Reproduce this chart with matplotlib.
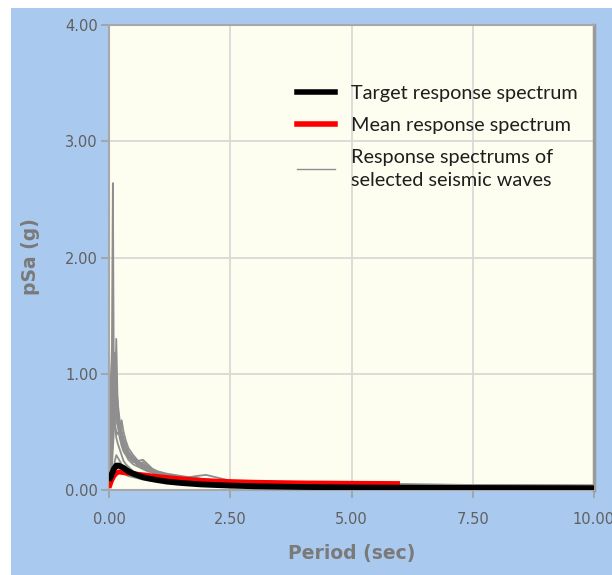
import matplotlib
matplotlib.use("Agg")
import matplotlib.pyplot as plt
from matplotlib.patches import Rectangle
from matplotlib.lines import Line2D

# ---------------- data ----------------
periods = [0, 0.03, 0.06, 0.08, 0.1, 0.12, 0.15, 0.18, 0.22, 0.26, 0.3, 0.35, 0.4, 0.5,
           0.6, 0.7, 0.8, 0.9, 1.0, 1.2, 1.5, 1.8, 2.0, 2.5, 3.0, 3.5, 4.0, 4.5, 5.0,
           6.0, 7.0, 8.0, 9.0, 10.0]

wave1 = [0.10, 0.35, 1.20, 2.64, 0.90, 0.60, 0.45, 0.40, 0.35, 0.30, 0.25, 0.22, 0.20, 0.16,
         0.14, 0.12, 0.11, 0.10, 0.09, 0.08, 0.07, 0.06, 0.055, 0.05, 0.045, 0.04, 0.04, 0.038,
         0.036, 0.034, 0.032, 0.03, 0.03, 0.03]
wave2 = [0.05, 0.20, 0.40, 0.50, 0.60, 0.70, 1.30, 0.70, 0.55, 0.45, 0.40, 0.35, 0.30, 0.25,
         0.22, 0.24, 0.20, 0.17, 0.15, 0.12, 0.10, 0.09, 0.08, 0.07, 0.06, 0.055, 0.05, 0.05,
         0.045, 0.04, 0.04, 0.035, 0.035, 0.035]
wave3 = [0.08, 0.30, 0.60, 0.80, 1.00, 1.18, 0.80, 0.60, 0.50, 0.60, 0.50, 0.42, 0.36, 0.30,
         0.25, 0.26, 0.22, 0.18, 0.16, 0.13, 0.11, 0.10, 0.09, 0.08, 0.07, 0.06, 0.06, 0.07,
         0.06, 0.05, 0.045, 0.04, 0.04, 0.04]
wave4 = [0.06, 0.50, 1.22, 0.80, 0.70, 0.65, 0.60, 0.55, 0.45, 0.38, 0.33, 0.30, 0.26, 0.22,
         0.20, 0.18, 0.16, 0.15, 0.14, 0.12, 0.10, 0.12, 0.13, 0.08, 0.065, 0.06, 0.055, 0.05,
         0.05, 0.045, 0.04, 0.04, 0.035, 0.035]
wave5 = [0.04, 0.10, 0.30, 0.45, 0.60, 0.55, 0.50, 0.48, 0.52, 0.45, 0.38, 0.32, 0.28, 0.24,
         0.25, 0.20, 0.17, 0.16, 0.14, 0.12, 0.10, 0.085, 0.075, 0.065, 0.055, 0.05, 0.048, 0.045,
         0.042, 0.04, 0.038, 0.036, 0.034, 0.032]
wave6 = [0.02, 0.05, 0.10, 0.15, 0.20, 0.25, 0.30, 0.28, 0.25, 0.22, 0.20, 0.18, 0.17, 0.15,
         0.13, 0.12, 0.11, 0.10, 0.09, 0.08, 0.07, 0.06, 0.055, 0.045, 0.04, 0.035, 0.03, 0.03,
         0.028, 0.026, 0.025, 0.024, 0.023, 0.022]
wave7 = [0.03, 0.08, 0.20, 0.35, 0.50, 0.70, 0.90, 0.75, 0.60, 0.50, 0.42, 0.36, 0.32, 0.27,
         0.24, 0.20, 0.18, 0.17, 0.15, 0.13, 0.11, 0.10, 0.09, 0.075, 0.065, 0.06, 0.055, 0.05,
         0.048, 0.045, 0.042, 0.04, 0.038, 0.036]
wave8 = [0.01, 0.03, 0.06, 0.08, 0.10, 0.12, 0.14, 0.15, 0.16, 0.15, 0.14, 0.13, 0.12, 0.11,
         0.10, 0.09, 0.085, 0.08, 0.075, 0.065, 0.055, 0.05, 0.045, 0.04, 0.035, 0.032, 0.03, 0.028,
         0.026, 0.025, 0.024, 0.022, 0.021, 0.02]
wave9 = [0.12, 0.90, 1.10, 0.90, 0.80, 0.75, 0.70, 0.62, 0.58, 0.50, 0.44, 0.38, 0.33, 0.28,
         0.25, 0.22, 0.19, 0.17, 0.15, 0.13, 0.11, 0.095, 0.085, 0.07, 0.06, 0.055, 0.05, 0.047,
         0.045, 0.042, 0.04, 0.038, 0.036, 0.035]
wave10 = [0.07, 0.40, 0.90, 1.05, 0.85, 0.90, 0.75, 0.65, 0.55, 0.48, 0.43, 0.36, 0.30, 0.26,
          0.23, 0.20, 0.18, 0.16, 0.14, 0.12, 0.10, 0.09, 0.08, 0.07, 0.06, 0.055, 0.052, 0.06,
          0.055, 0.048, 0.045, 0.042, 0.04, 0.038]
wave11 = [0.09, 0.60, 0.70, 0.65, 0.72, 0.80, 0.68, 0.58, 0.50, 0.42, 0.36, 0.32, 0.29, 0.26,
          0.23, 0.21, 0.20, 0.18, 0.16, 0.14, 0.12, 0.10, 0.09, 0.075, 0.065, 0.06, 0.055, 0.05,
          0.05, 0.045, 0.042, 0.04, 0.038, 0.036]
wave12 = [0.05, 0.25, 0.50, 0.62, 0.75, 0.95, 1.00, 0.68, 0.57, 0.48, 0.40, 0.34, 0.30, 0.25,
          0.21, 0.19, 0.17, 0.15, 0.13, 0.11, 0.095, 0.085, 0.08, 0.065, 0.055, 0.05, 0.046, 0.044,
          0.042, 0.04, 0.038, 0.036, 0.034, 0.033]
waves = [wave1, wave2, wave3, wave4, wave5, wave6, wave7, wave8, wave9, wave10, wave11, wave12]

target_periods = [0, 0.05, 0.1, 0.15, 0.2, 0.25, 0.3, 0.4, 0.5, 0.6, 0.7, 0.8, 1.0, 1.2, 1.5,
                  1.9, 2.5, 3.0, 4.0, 5.0, 6.0, 7.0, 8.0, 10.0]
target_values = [0.08, 0.13, 0.18, 0.21, 0.21, 0.20, 0.19, 0.16, 0.14, 0.125, 0.11, 0.10, 0.085,
                 0.072, 0.06, 0.048, 0.038, 0.032, 0.026, 0.022, 0.02, 0.018, 0.017, 0.015]

mean_periods = [0, 0.05, 0.1, 0.15, 0.2, 0.3, 0.4, 0.5, 0.7, 1.0, 1.5, 2.0, 2.5, 3.0, 4.0, 5.0, 6.0]
mean_values = [0.02, 0.08, 0.12, 0.145, 0.155, 0.15, 0.145, 0.14, 0.13, 0.115, 0.095, 0.08, 0.072,
               0.066, 0.06, 0.057, 0.055]

x_ticks = [0, 2.5, 5, 7.5, 10]
y_ticks = [0, 1, 2, 3, 4]
legend_labels = ["Target response spectrum", "Mean response spectrum",
                 "Response spectrums of\nselected seismic waves"]

# ---------------- figure ----------------
W, H = 612, 575
fig = plt.figure(figsize=(W / 100, H / 100), dpi=100, facecolor="white")
fig.patches.append(Rectangle((11 / W, 0), 1 - 11 / W, (H - 8) / H, transform=fig.transFigure,
                             facecolor="#a9c9ee", edgecolor="none", zorder=-10))

left, right, top, bottom = 109, 594, 25, 490
ax = fig.add_axes([left / W, (H - bottom) / H, (right - left) / W, (bottom - top) / H])
ax.set_facecolor("#fdfdf0")

for w in waves:
    ax.plot(periods, w, color="#8e8e8e", lw=1.3, zorder=2)
ax.plot(mean_periods, mean_values, color="#ff0000", lw=3.6, zorder=3, solid_capstyle="butt")
ax.plot(target_periods, target_values, color="#000000", lw=4.2, zorder=4, solid_capstyle="butt")

ax.set_xlim(0, 10)
ax.set_ylim(0, 4)
ax.set_xticks(x_ticks)
ax.set_yticks(y_ticks)
ax.set_xticklabels([f"{v:.2f}" for v in x_ticks])
ax.set_yticklabels([f"{v:.2f}" for v in y_ticks])
ax.grid(True, color="#d9d9d6", lw=1.3, zorder=1)
ax.set_axisbelow(True)

for s in ["left", "bottom", "top"]:
    ax.spines[s].set_color("#a8a8a8")
    ax.spines[s].set_linewidth(1.5)
ax.spines["right"].set_color("#9a9a9a")
ax.spines["right"].set_linewidth(2.5)

ax.tick_params(axis="both", colors="#a0a0a0", labelcolor="#606060", labelsize=10.5,
               length=6, width=1.2, direction="out")
ax.tick_params(axis="x", pad=10)
ax.tick_params(axis="y", pad=2)

fig.text(352 / W, 1 - 553 / H, "Period (sec)", ha="center", va="center", fontsize=13.5,
         color="#7a7a7a", fontweight="bold")
fig.text(30 / W, 1 - 257 / H, "pSa (g)", ha="center", va="center", rotation=90, fontsize=13.5,
         color="#7a7a7a", fontweight="bold")

handles = [Line2D([], [], color="#000000", lw=4),
           Line2D([], [], color="#ff0000", lw=4),
           Line2D([], [], color="#8e8e8e", lw=1)]
leg = ax.legend(handles, legend_labels, loc="upper left", bbox_to_anchor=(0.388, 0.871),
                frameon=False, borderpad=0, borderaxespad=0, handlelength=1.9,
                handletextpad=0.8, labelspacing=0.75,
                prop={"family": "Lato", "size": 14.3})
for t in leg.get_texts():
    t.set_color("#1e1e1e")
    t.set_linespacing(1.45)

fig.savefig("out.png", dpi=100, facecolor="white")
